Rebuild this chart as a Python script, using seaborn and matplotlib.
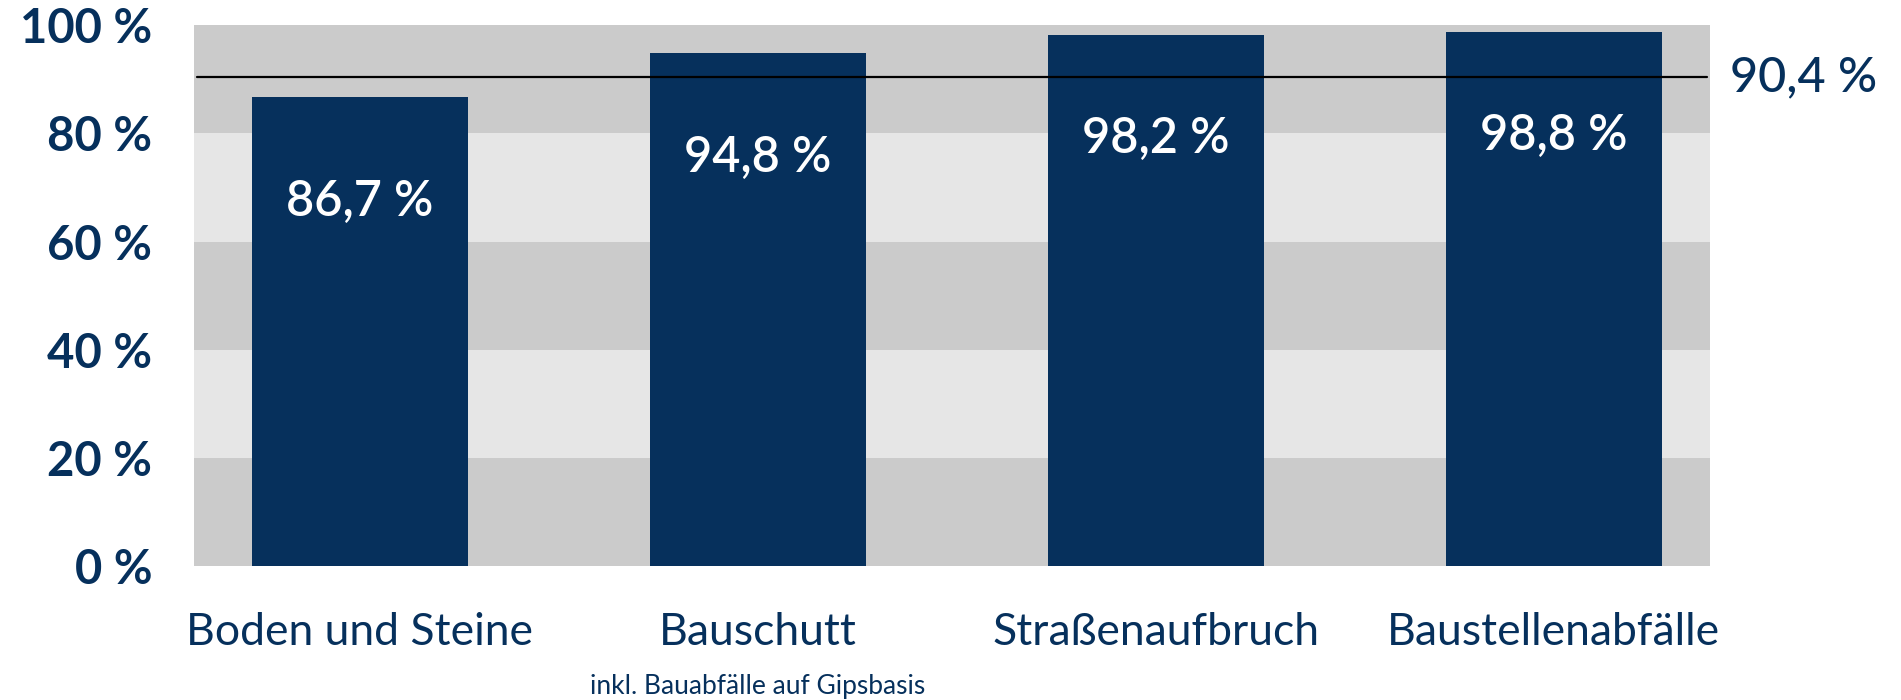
import matplotlib
matplotlib.use("Agg")
import matplotlib.pyplot as plt
import matplotlib.transforms as mtransforms
import seaborn as sns
import pandas as pd

categories = ["Boden und Steine", "Bauschutt", "Straßenaufbruch", "Baustellenabfälle"]
values = [86.7, 94.8, 98.2, 98.8]
value_labels = ["86,7 %", "94,8 %", "98,2 %", "98,8 %"]
reference_value = 90.4
reference_label = "90,4 %"
yticks = [0, 20, 40, 60, 80, 100]
ytick_labels = ["0 %", "20 %", "40 %", "60 %", "80 %", "100 %"]
footnote = "inkl. Bauabfälle auf Gipsbasis"

NAVY = "#06305C"
DARK_BAND = "#CBCBCB"
LIGHT_BAND = "#E6E6E6"

sns.set_theme(style="white")
plt.rcParams["font.family"] = ["Lato", "DejaVu Sans"]

df = pd.DataFrame({"cat": categories, "val": values})

fig = plt.figure(figsize=(19.01, 7.0), dpi=100)
ax = fig.add_axes([0.102, 0.1914, 0.7975, 0.7726])

# alternating horizontal bands
for i in range(len(yticks) - 1):
    ax.axhspan(yticks[i], yticks[i + 1], color=DARK_BAND if i % 2 == 0 else LIGHT_BAND,
               zorder=0, lw=0)

sns.barplot(data=df, x="cat", y="val", order=categories, color=NAVY, saturation=1,
            width=0.543, ax=ax, zorder=2, linewidth=0, edgecolor=NAVY)

ax.set_xlim(-0.417, 3.392)
ax.set_ylim(0, 100)

ax.axhline(reference_value, xmin=0.002, xmax=0.998, color="black", lw=1.6, zorder=3)
ax.text(1.013, reference_value, reference_label,
        transform=mtransforms.blended_transform_factory(ax.transAxes, ax.transData),
        ha="left", va="center", fontsize=35, color=NAVY, fontweight="medium")

for i, (v, lab) in enumerate(zip(values, value_labels)):
    ax.text(i, v - 19.3, lab, ha="center", va="center", color="white",
            fontsize=35, fontweight="semibold", zorder=4)

ax.set_yticks(yticks)
ax.set_yticklabels(ytick_labels, fontsize=34, fontweight="bold", color=NAVY)
ax.set_xticks(range(len(categories)))
ax.set_xticklabels(categories, fontsize=32, color=NAVY)
ax.tick_params(axis="y", length=0, pad=30)
ax.tick_params(axis="x", length=0, pad=33)
ax.set_xlabel("")
ax.set_ylabel("")
for s in ax.spines.values():
    s.set_visible(False)

ax.text(1, -0.223, footnote,
        transform=mtransforms.blended_transform_factory(ax.transData, ax.transAxes),
        ha="center", va="center", fontsize=19, color=NAVY)

fig.savefig("out.png", dpi=100)
